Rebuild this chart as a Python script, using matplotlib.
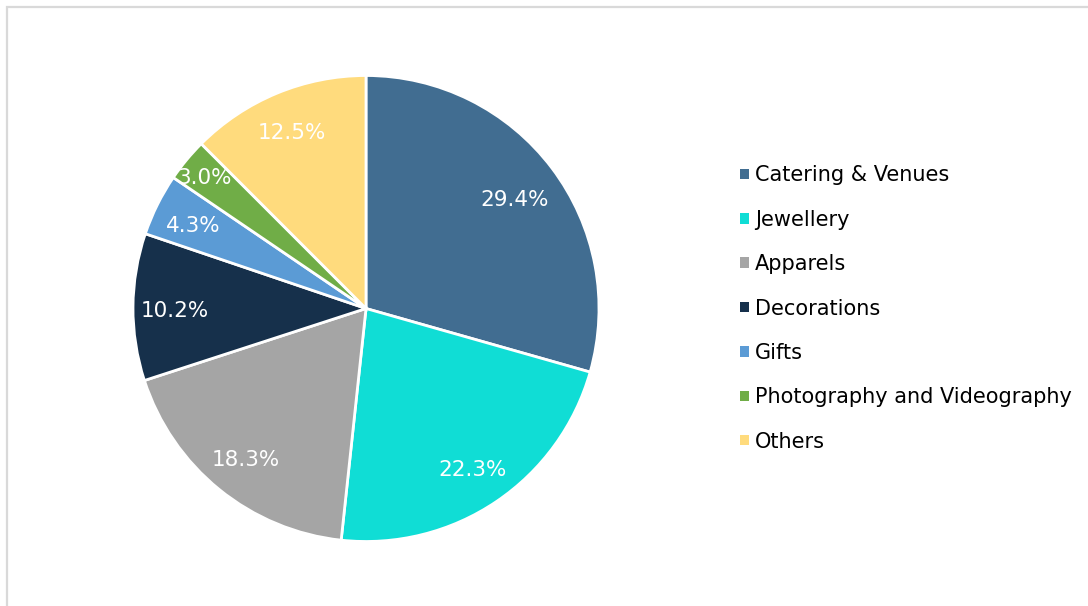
import numpy as np
import matplotlib.pyplot as plt
from matplotlib.patches import Patch, Rectangle

categories = [
    "Catering & Venues",
    "Jewellery",
    "Apparels",
    "Decorations",
    "Gifts",
    "Photography and Videography",
    "Others",
]
shares = [29.4, 22.3, 18.3, 10.2, 4.3, 3.0, 12.5]
colors = ["#416D91", "#10DDD5", "#A5A5A5", "#16304B", "#5B9BD5", "#70AD47", "#FFDB7D"]
# radial position of each percentage label (fraction of the radius)
label_radius = [0.80, 0.82, 0.82, 0.82, 0.83, 0.90, 0.83]

W, H = 1088, 606
fig = plt.figure(figsize=(W / 100, H / 100), dpi=100)
plt.rcParams["font.family"] = ["DejaVu Sans"]

# light frame around the chart area (clipped at the right and bottom edges)
fig.patches.append(Rectangle((7 / W, -0.1), 1.2, (H - 7) / H + 0.1,
                             transform=fig.transFigure, fill=False,
                             edgecolor="#D9D9D9", linewidth=1.6))

cx, cy, r = 366, 308.5, 233
ax = fig.add_axes([(cx - r) / W, (H - cy - r) / H, 2 * r / W, 2 * r / H])
wedges, texts, autotexts = ax.pie(
    shares,
    colors=colors,
    startangle=90,
    counterclock=False,
    autopct="%.1f%%",
    wedgeprops=dict(edgecolor="white", linewidth=2),
    textprops=dict(color="white", fontsize=15.5),
)
for w, t, d in zip(wedges, autotexts, label_radius):
    ang = np.deg2rad((w.theta1 + w.theta2) / 2)
    t.set_position((d * np.cos(ang), d * np.sin(ang) - 0.015))
ax.set_xlim(-1, 1)
ax.set_ylim(-1, 1)

handles = [Patch(facecolor=c, edgecolor="none") for c in colors]
fig.legend(handles, categories, loc="upper left",
           bbox_to_anchor=(730 / W, (H - 155) / H),
           frameon=False, fontsize=15, handlelength=0.4, handleheight=0.4,
           handletextpad=0.3, labelspacing=1.17, borderpad=0)

fig.savefig("out.png", dpi=100)
